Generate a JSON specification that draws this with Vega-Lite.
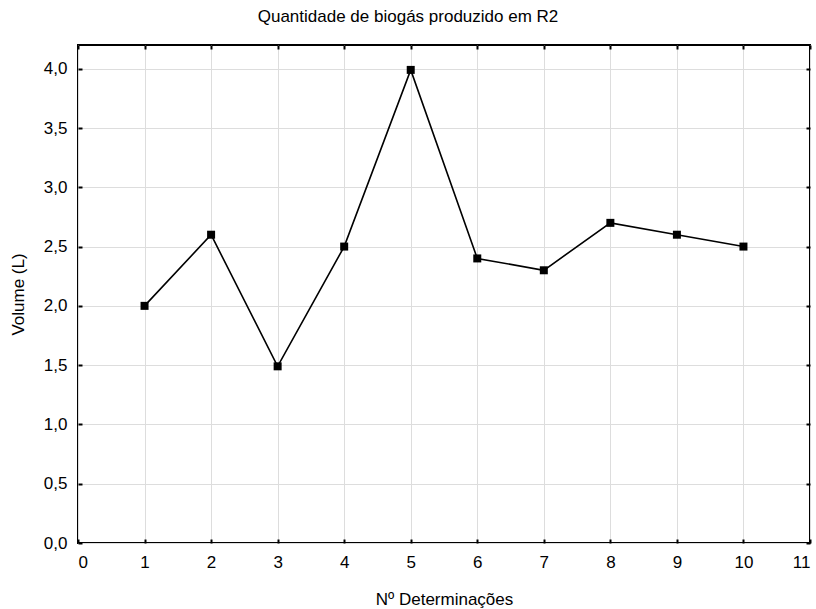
{
  "$schema": "https://vega.github.io/schema/vega-lite/v6.json",
  "autosize": "none",
  "padding": {"left": 78, "top": 45, "right": 6, "bottom": 66},
  "width": 732,
  "height": 498,
  "title": {"text": "Quantidade de biogás produzido em R2", "font": "Liberation Sans", "fontSize": 17, "fontWeight": "normal", "color": "#000", "offset": 18, "dx": -36},
  "config": {
    "view": {"stroke": "#000", "strokeWidth": 2},
    "axis": {"labelFont": "Liberation Sans", "titleFont": "Liberation Sans", "labelFontSize": 17, "titleFontSize": 17, "titleFontWeight": "normal", "labelColor": "#000", "titleColor": "#000", "gridColor": "#dddddd", "gridWidth": 1, "domain": false, "tickColor": "#000", "tickWidth": 2}
  },
  "resolve": {"axis": {"x": "independent", "y": "independent"}},
  "data": {"values": [
    {"n": 1, "v": 2.0},
    {"n": 2, "v": 2.6},
    {"n": 3, "v": 1.49},
    {"n": 4, "v": 2.5},
    {"n": 5, "v": 3.99},
    {"n": 6, "v": 2.4},
    {"n": 7, "v": 2.3},
    {"n": 8, "v": 2.7},
    {"n": 9, "v": 2.6},
    {"n": 10, "v": 2.5}
  ]},
  "layer": [
    {
      "mark": {"type": "line", "color": "#000", "strokeWidth": 1.6},
      "encoding": {
        "x": {"field": "n", "type": "quantitative", "scale": {"domain": [0, 11], "nice": false, "zero": false},
          "axis": {"orient": "bottom", "values": [0,1,2,3,4,5,6,7,8,9,10,11], "title": "Nº Determinações", "titlePadding": 21, "tickSize": -4, "labelPadding": 15, "format": "d"}},
        "y": {"field": "v", "type": "quantitative", "scale": {"domain": [0, 4.2], "nice": false},
          "axis": {"orient": "left", "values": [0,0.5,1,1.5,2,2.5,3,3.5,4], "title": "Volume (L)", "titlePadding": 16, "tickSize": -4, "labelPadding": 15, "labelExpr": "replace(format(datum.value, '.1f'), '.', ',')"}}
      }
    },
    {
      "mark": {"type": "square", "color": "#000", "filled": true, "opacity": 1, "size": 64},
      "encoding": {
        "x": {"field": "n", "type": "quantitative", "axis": null},
        "y": {"field": "v", "type": "quantitative", "axis": null}
      }
    },
    {
      "mark": {"type": "rule", "opacity": 0},
      "encoding": {
        "x": {"field": "n", "type": "quantitative", "axis": {"orient": "top", "values": [0,1,2,3,4,5,6,7,8,9,10,11], "labels": false, "grid": false, "title": null, "tickSize": -4}},
        "y": {"field": "v", "type": "quantitative", "axis": {"orient": "right", "values": [0,0.5,1,1.5,2,2.5,3,3.5,4], "labels": false, "grid": false, "title": null, "tickSize": -4}}
      }
    }
  ]
}
